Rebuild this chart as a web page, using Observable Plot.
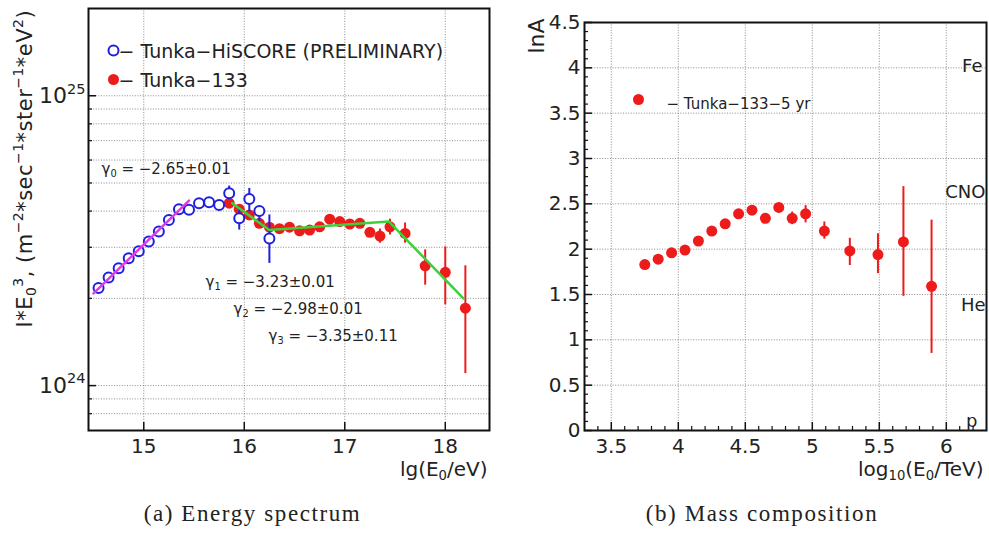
<!DOCTYPE html>
<html><head><meta charset="utf-8">
<script src="https://cdn.jsdelivr.net/npm/d3@7"></script>
<script src="https://cdn.jsdelivr.net/npm/@observablehq/plot@0.6"></script>
<style>
body{margin:0;background:#fff;}
#wrap{position:relative;width:989px;height:535px;overflow:hidden;background:#fff;}
.panel{position:absolute;top:0;}
.panel svg{max-width:none !important;}
.cap{position:absolute;top:500px;font-family:"Liberation Serif","DejaVu Serif",serif;font-size:23px;letter-spacing:1.6px;color:#222;white-space:nowrap;transform:translateX(-50%);line-height:28px;}
</style></head><body><div id="wrap"></div>
<script>
// ---------- Panel (a): energy spectrum ----------
const hiscoreLgE  = [14.55,14.65,14.75,14.85,14.95,15.05,15.15,15.25,15.35,15.45,15.55,15.65,15.75,15.85,15.95,16.05,16.15,16.25];
const hiscoreFlux = [2.17e24,2.36e24,2.54e24,2.75e24,2.91e24,3.14e24,3.40e24,3.73e24,4.06e24,4.04e24,4.26e24,4.29e24,4.20e24,4.61e24,3.78e24,4.40e24,4.00e24,3.22e24];
const hiscoreErrLgE = [15.85,15.95,16.05,16.15,16.25];
const hiscoreErrLo  = [4.37e24,3.44e24,3.98e24,3.68e24,2.64e24];
const hiscoreErrHi  = [4.88e24,4.10e24,4.79e24,4.14e24,3.88e24];

const t133LgE  = [15.85,15.95,16.05,16.15,16.25,16.35,16.45,16.55,16.65,16.75,16.85,16.95,17.05,17.15,17.25,17.35,17.45,17.6,17.8,18.0,18.2];
const t133Flux = [4.26e24,4.06e24,3.88e24,3.63e24,3.52e24,3.48e24,3.52e24,3.42e24,3.44e24,3.53e24,3.75e24,3.68e24,3.61e24,3.63e24,3.38e24,3.28e24,3.53e24,3.35e24,2.59e24,2.46e24,1.85e24];
const t133ErrLgE = [17.35,17.45,17.6,17.8,18.0,18.2];
const t133ErrLo  = [3.10e24,3.31e24,3.10e24,2.22e24,1.90e24,1.10e24];
const t133ErrHi  = [3.47e24,3.75e24,3.64e24,2.94e24,3.01e24,2.59e24];

const fit0LgE  = [14.50,15.45];
const fit0Flux = [2.08e24,4.35e24];
const fitKneeLgE  = [15.88,16.25,17.44,18.18];
const fitKneeFlux = [4.26e24,3.44e24,3.68e24,2.00e24];

const leftXTicks  = [15,16,17,18];
const leftYMajor  = [1e24,1e25];
const leftYMinor  = [8e23,9e23,2e24,3e24,4e24,5e24,6e24,7e24,8e24,9e24];
const leftYGrid   = [8e23,9e23,1e24,2e24,3e24,4e24,5e24,6e24,7e24,8e24,9e24,1e25];

const leftLegend  = ["− Tunka−HiSCORE (PRELIMINARY)","− Tunka−133"];
const gammaLabels = ["γ_{0} = −2.65±0.01","γ_{1} = −3.23±0.01","γ_{2} = −2.98±0.01","γ_{3} = −3.35±0.11"];
const leftXLabel  = "lg(E_{0}/eV)";
const leftYLabel  = "I*E_{0}^{3}, (m^{−2}*sec^{−1}*ster^{−1}*eV^{2})";

// ---------- Panel (b): mass composition ----------
const massLgE = [3.75,3.85,3.95,4.05,4.15,4.25,4.35,4.45,4.55,4.65,4.75,4.85,4.95,5.09,5.28,5.49,5.68,5.89];
const massLnA = [1.83,1.89,1.96,1.99,2.09,2.20,2.28,2.39,2.43,2.34,2.46,2.34,2.39,2.20,1.98,1.94,2.08,1.59];
const massErrLgE = [4.85,4.95,5.09,5.28,5.49,5.68,5.89];
const massErrLo  = [2.27,2.29,2.11,1.82,1.73,1.48,0.85];
const massErrHi  = [2.41,2.48,2.30,2.12,2.17,2.69,2.32];

const rightXTicks = [3.5,4,4.5,5,5.5,6];
const rightYTicks = [0,0.5,1,1.5,2,2.5,3,3.5,4,4.5];
const rightYGrid  = [0.5,1,1.5,2,2.5,3,3.5,4];
const rightXMinor = d3.range(34,63).map(d=>d/10).filter(v=>Math.abs(v*2-Math.round(v*2))>1e-6);
const rightYMinor = d3.range(1,45).map(d=>d/10).filter(v=>Math.abs(v*2-Math.round(v*2))>1e-6);
const elementLabels = ["Fe","CNO","He","p"];
const rightLegend = "− Tunka−133−5 yr";
const rightXLabel = "log_{10}(E_{0}/TeV)";
const rightYLabel = "lnA";

const captions = ["(a)  Energy spectrum","(b)  Mass composition"];

// ---------- styles ----------
const RED="#ee1b1b", BLUE="#1f1fe0", GREEN="#3ad13a", MAGENTA="#e23ae6";
const grid = {stroke:"#555", strokeWidth:0.9, strokeDasharray:"1,1.6", strokeOpacity:0.75};
const H = 480;

const hiscore = hiscoreLgE.map((x,i)=>({x, y:hiscoreFlux[i]}));
const hiscoreErr = hiscoreErrLgE.map((x,i)=>({x, lo:hiscoreErrLo[i], hi:hiscoreErrHi[i]}));
const t133 = t133LgE.map((x,i)=>({x, y:t133Flux[i]}));
const t133Err = t133ErrLgE.map((x,i)=>({x, lo:t133ErrLo[i], hi:t133ErrHi[i]}));
const fit0 = fit0LgE.map((x,i)=>({x, y:fit0Flux[i]}));
const fitKnee = fitKneeLgE.map((x,i)=>({x, y:fitKneeFlux[i]}));
const mass = massLgE.map((x,i)=>({x, y:massLnA[i]}));
const massErr = massErrLgE.map((x,i)=>({x, lo:massErrLo[i], hi:massErrHi[i]}));

const LW=495, Lm={l:88,r:6,t:8,b:50};
const LiH = H-Lm.t-Lm.b, LiW = LW-Lm.l-Lm.r;
const left = Plot.plot({
  width:LW, height:H, marginLeft:Lm.l, marginRight:Lm.r, marginTop:Lm.t, marginBottom:Lm.b,
  style:{fontFamily:"DejaVu Sans", fontSize:"20px", color:"#222", background:"white", overflow:"visible"},
  x:{domain:[14.45,18.44], ticks:leftXTicks, tickFormat:d=>String(d), tickSize:0, tickPadding:8, label:null},
  y:{type:"log", domain:[7e23,2e25], ticks:leftYMajor, tickFormat:d=>"10^{"+Math.round(Math.log10(d))+"}", tickSize:0, tickPadding:3, label:null},
  marks:[
    Plot.ruleY(leftYGrid, {y:d=>d, ...grid}),
    Plot.ruleX(leftXTicks, {x:d=>d, ...grid}),
    Plot.ruleX(leftXTicks, {x:d=>d, insetTop:LiH-8, stroke:"#111", strokeWidth:1.5}),
    Plot.ruleY(leftYMajor, {y:d=>d, insetRight:LiW-8, stroke:"#111", strokeWidth:1.5}),
    Plot.ruleY(leftYMinor, {y:d=>d, insetRight:LiW-4, stroke:"#111", strokeWidth:1.2}),
    Plot.ruleX(t133Err, {x:"x", y1:"lo", y2:"hi", stroke:RED, strokeWidth:2}),
    Plot.dot(t133, {x:"x", y:"y", r:5.5, fill:RED, stroke:"none"}),
    Plot.ruleX(hiscoreErr, {x:"x", y1:"lo", y2:"hi", stroke:BLUE, strokeWidth:2}),
    Plot.dot(hiscore, {x:"x", y:"y", r:5, fill:"white", stroke:BLUE, strokeWidth:2}),
    Plot.line(fit0, {x:"x", y:"y", stroke:MAGENTA, strokeWidth:2.5}),
    Plot.line(fitKnee, {x:"x", y:"y", stroke:GREEN, strokeWidth:2.5}),
    Plot.frame({stroke:"#111", strokeWidth:2}),
    // legend
    Plot.dot([0], {frameAnchor:"top-left", dx:25, dy:42, r:5, fill:"white", stroke:BLUE, strokeWidth:2}),
    Plot.dot([0], {frameAnchor:"top-left", dx:25, dy:71, r:5.5, fill:RED}),
    Plot.text([leftLegend[0]], {frameAnchor:"top-left", dx:30, dy:36, text:d=>d, textAnchor:"start", fontSize:19, fill:"#222"}),
    Plot.text([leftLegend[1]], {frameAnchor:"top-left", dx:30, dy:65, text:d=>d, textAnchor:"start", fontSize:19, fill:"#222"}),
    // fit annotations
    Plot.text([gammaLabels[0]], {frameAnchor:"top-left", dx:13, dy:155, text:d=>d, textAnchor:"start", fontSize:15, fill:"#222"}),
    Plot.text([gammaLabels[1]], {frameAnchor:"top-left", dx:117, dy:268, text:d=>d, textAnchor:"start", fontSize:15, fill:"#222"}),
    Plot.text([gammaLabels[2]], {frameAnchor:"top-left", dx:145, dy:295, text:d=>d, textAnchor:"start", fontSize:15, fill:"#222"}),
    Plot.text([gammaLabels[3]], {frameAnchor:"top-left", dx:180, dy:322, text:d=>d, textAnchor:"start", fontSize:15, fill:"#222"}),
    // axis titles
    Plot.text([leftXLabel], {frameAnchor:"bottom-right", dx:-2, dy:45, text:d=>d, textAnchor:"end", fontSize:20, fill:"#222"}),
    Plot.text([leftYLabel], {frameAnchor:"bottom-left", dx:-57, dy:-103, rotate:-90, text:d=>d, textAnchor:"start", fontSize:21, fill:"#222"})
  ]
});

const RW=494, Rm={l:89,r:3,t:22,b:50};
const RiH = H-Rm.t-Rm.b, RiW = RW-Rm.l-Rm.r;
const right = Plot.plot({
  width:RW, height:H, marginLeft:Rm.l, marginRight:Rm.r, marginTop:Rm.t, marginBottom:Rm.b,
  style:{fontFamily:"DejaVu Sans", fontSize:"20px", color:"#222", background:"white", overflow:"visible"},
  x:{domain:[3.3,6.3], ticks:rightXTicks, tickFormat:d=>String(d), tickSize:0, tickPadding:8, label:null},
  y:{domain:[0,4.5], ticks:rightYTicks, tickFormat:d=>String(d), tickSize:0, tickPadding:4, label:null},
  marks:[
    Plot.ruleY(rightYGrid, {y:d=>d, ...grid}),
    Plot.ruleX(rightXTicks, {x:d=>d, ...grid}),
    Plot.ruleX(rightXTicks, {x:d=>d, insetTop:RiH-8, stroke:"#111", strokeWidth:1.5}),
    Plot.ruleX(rightXMinor, {x:d=>d, insetTop:RiH-4, stroke:"#111", strokeWidth:1.2}),
    Plot.ruleY(rightYTicks, {y:d=>d, insetRight:RiW-8, stroke:"#111", strokeWidth:1.5}),
    Plot.ruleY(rightYMinor, {y:d=>d, insetRight:RiW-4, stroke:"#111", strokeWidth:1.2}),
    Plot.ruleX(massErr, {x:"x", y1:"lo", y2:"hi", stroke:RED, strokeWidth:2}),
    Plot.dot(mass, {x:"x", y:"y", r:5.5, fill:RED}),
    Plot.frame({stroke:"#111", strokeWidth:2}),
    Plot.dot([0], {frameAnchor:"top-left", dx:54, dy:77, r:5.5, fill:RED}),
    Plot.text([rightLegend], {frameAnchor:"top-left", dx:82, dy:76, text:d=>d, textAnchor:"start", fontSize:15, fill:"#222"}),
    Plot.text([elementLabels[0]], {frameAnchor:"top-right", dx:-4, dy:37, text:d=>d, textAnchor:"end", fontSize:18, fill:"#222"}),
    Plot.text([elementLabels[1]], {frameAnchor:"top-right", dx:-1, dy:163, text:d=>d, textAnchor:"end", fontSize:18, fill:"#222"}),
    Plot.text([elementLabels[2]], {frameAnchor:"top-right", dx:-1, dy:276, text:d=>d, textAnchor:"end", fontSize:18, fill:"#222"}),
    Plot.text([elementLabels[3]], {frameAnchor:"top-right", dx:-9, dy:392, text:d=>d, textAnchor:"end", fontSize:18, fill:"#222"}),
    Plot.text([rightXLabel], {frameAnchor:"bottom-right", dx:-3, dy:45, text:d=>d, textAnchor:"end", fontSize:20, fill:"#222"}),
    Plot.text([rightYLabel], {frameAnchor:"top-left", dx:-56, dy:-4, rotate:-90, text:d=>d, textAnchor:"end", fontSize:22, fill:"#222"})
  ]
});

const wrap = document.getElementById("wrap");
function addPanel(svg, x){ const d=document.createElement("div"); d.className="panel"; d.style.left=x+"px"; d.appendChild(svg); wrap.appendChild(d); }
addPanel(left, 0);
addPanel(right, 495);

function richify(svg){
  d3.select(svg).selectAll("text").each(function(){
    const s = this.textContent;
    if (!/[\^_]\{/.test(s)) return;
    const sel = d3.select(this);
    if (/^10\^/.test(s)) sel.attr("font-size", 22);
    if (s === leftYLabel) sel.style("letter-spacing", "0.5px");
    const fs = parseFloat(getComputedStyle(this).fontSize) || 20;
    sel.text(null);
    const re = /([\^_])\{([^}]*)\}|([^\^_]+)/g;
    let m, offset = 0;
    while ((m = re.exec(s))) {
      if (m[3] !== undefined) {
        const t = sel.append("tspan").text(m[3]);
        if (offset) { t.attr("dy", -offset); offset = 0; }
      } else {
        const shift = m[1] === "^" ? -0.42*fs : 0.22*fs;
        sel.append("tspan").attr("dy", shift - offset).attr("font-size", (0.66*fs).toFixed(1)).text(m[2]);
        offset = shift;
      }
    }
  });
}
richify(left); richify(right);

[[captions[0],252.5],[captions[1],762]].forEach(([t,x])=>{
  const d=document.createElement("div"); d.className="cap"; d.style.left=x+"px"; d.textContent=t; wrap.appendChild(d);
});
</script></body></html>
